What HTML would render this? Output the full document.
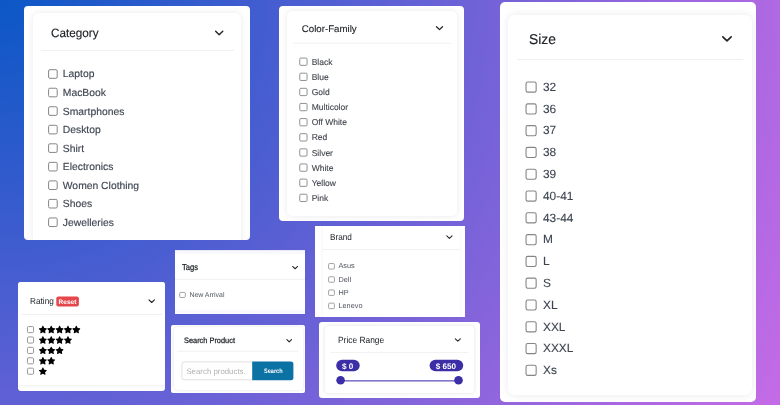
<!DOCTYPE html>
<html><head><meta charset="utf-8"><title>Filters</title>
<style>
html,body{margin:0;padding:0}
body{width:780px;height:405px;overflow:hidden;position:relative;font-family:"Liberation Sans",sans-serif;
background:radial-gradient(circle farthest-corner at 0 0, rgb(11,87,198) 0%, rgb(197,107,230) 100%);}
.abs{position:absolute}
.clip{overflow:hidden}
.t{white-space:nowrap}
#layer{position:absolute;left:0;top:0;width:780px;height:405px;will-change:transform;text-rendering:geometricPrecision}
</style></head><body>
<div id="layer">
<div class="abs clip" style="left:24px;top:6px;width:226.00px;height:234.00px;border-radius:4px;background:#fff"><div class="abs" style="left:9.00px;top:6.50px;width:207.50px;height:257.50px;border-radius:6px;background:#fff;box-shadow:0 0 7px rgba(0,0,0,0.09)"></div></div>
<div class="abs clip" style="left:279px;top:6px;width:185.00px;height:214.50px;border-radius:4px;background:#fff"><div class="abs" style="left:8.00px;top:5.00px;width:170.20px;height:204.60px;border-radius:5px;background:#fff;box-shadow:0 0 6px rgba(0,0,0,0.09)"></div></div>
<div class="abs clip" style="left:500px;top:2px;width:256.00px;height:400.00px;border-radius:5px;background:#fff"><div class="abs" style="left:8.00px;top:13.00px;width:244.00px;height:380.00px;border-radius:7px;background:#fff;box-shadow:0 0 8px rgba(0,0,0,0.09)"></div></div>
<div class="abs clip" style="left:18px;top:282px;width:146.70px;height:108.50px;border-radius:3px;background:#fff"><div class="abs" style="left:-10.00px;top:-10.00px;width:170.00px;height:112.80px;border-radius:3px;background:#fff;box-shadow:0 0 4px rgba(0,0,0,0.10)"></div></div>
<div class="abs clip" style="left:170.6px;top:325px;width:134.40px;height:67.80px;border-radius:2px;background:#fff"><div class="abs" style="left:3.40px;top:2.00px;width:129.00px;height:62.50px;border-radius:4px;background:#fff;box-shadow:0 0 4px rgba(0,0,0,0.10)"></div></div>
<div class="abs clip" style="left:314.8px;top:226.4px;width:150.30px;height:90.40px;border-radius:0;background:#fff"><div class="abs" style="left:7.80px;top:-10.40px;width:137.90px;height:120.00px;background:#fff;box-shadow:0 0 4px rgba(0,0,0,0.05)"></div></div>
<div class="abs clip" style="left:318.9px;top:321.7px;width:161.00px;height:76.30px;border-radius:3px;background:#fff"><div class="abs" style="left:6.40px;top:4.30px;width:148.30px;height:67.30px;border-radius:4px;background:#fff;box-shadow:0 0 4px rgba(0,0,0,0.12)"></div></div>
<svg class="abs" style="left:0;top:0" width="780" height="405">
<polyline points="215.65,31.15 219.20,34.65 222.75,31.15" fill="none" stroke="#262626" stroke-width="1.45" stroke-linecap="round" stroke-linejoin="round"/>
<rect x="41.00" y="49.90" width="193.00" height="1" fill="#f0f0f0"/>
<rect x="48.60" y="69.70" width="8.60" height="8.60" rx="1.3" ry="1.3" fill="#fff" stroke="#858585" stroke-width="1"/>
<rect x="48.60" y="88.23" width="8.60" height="8.60" rx="1.3" ry="1.3" fill="#fff" stroke="#858585" stroke-width="1"/>
<rect x="48.60" y="106.76" width="8.60" height="8.60" rx="1.3" ry="1.3" fill="#fff" stroke="#858585" stroke-width="1"/>
<rect x="48.60" y="125.29" width="8.60" height="8.60" rx="1.3" ry="1.3" fill="#fff" stroke="#858585" stroke-width="1"/>
<rect x="48.60" y="143.82" width="8.60" height="8.60" rx="1.3" ry="1.3" fill="#fff" stroke="#858585" stroke-width="1"/>
<rect x="48.60" y="162.35" width="8.60" height="8.60" rx="1.3" ry="1.3" fill="#fff" stroke="#858585" stroke-width="1"/>
<rect x="48.60" y="180.88" width="8.60" height="8.60" rx="1.3" ry="1.3" fill="#fff" stroke="#858585" stroke-width="1"/>
<rect x="48.60" y="199.41" width="8.60" height="8.60" rx="1.3" ry="1.3" fill="#fff" stroke="#858585" stroke-width="1"/>
<rect x="48.60" y="217.94" width="8.60" height="8.60" rx="1.3" ry="1.3" fill="#fff" stroke="#858585" stroke-width="1"/>
<polyline points="436.50,26.75 439.50,29.65 442.50,26.75" fill="none" stroke="#262626" stroke-width="1.3" stroke-linecap="round" stroke-linejoin="round"/>
<rect x="293.00" y="42.80" width="158.30" height="1" fill="#f0f0f0"/>
<rect x="299.75" y="58.05" width="7.30" height="7.30" rx="1.1" ry="1.1" fill="#fff" stroke="#858585" stroke-width="0.9"/>
<rect x="299.75" y="73.18" width="7.30" height="7.30" rx="1.1" ry="1.1" fill="#fff" stroke="#858585" stroke-width="0.9"/>
<rect x="299.75" y="88.31" width="7.30" height="7.30" rx="1.1" ry="1.1" fill="#fff" stroke="#858585" stroke-width="0.9"/>
<rect x="299.75" y="103.44" width="7.30" height="7.30" rx="1.1" ry="1.1" fill="#fff" stroke="#858585" stroke-width="0.9"/>
<rect x="299.75" y="118.57" width="7.30" height="7.30" rx="1.1" ry="1.1" fill="#fff" stroke="#858585" stroke-width="0.9"/>
<rect x="299.75" y="133.70" width="7.30" height="7.30" rx="1.1" ry="1.1" fill="#fff" stroke="#858585" stroke-width="0.9"/>
<rect x="299.75" y="148.83" width="7.30" height="7.30" rx="1.1" ry="1.1" fill="#fff" stroke="#858585" stroke-width="0.9"/>
<rect x="299.75" y="163.96" width="7.30" height="7.30" rx="1.1" ry="1.1" fill="#fff" stroke="#858585" stroke-width="0.9"/>
<rect x="299.75" y="179.09" width="7.30" height="7.30" rx="1.1" ry="1.1" fill="#fff" stroke="#858585" stroke-width="0.9"/>
<rect x="299.75" y="194.22" width="7.30" height="7.30" rx="1.1" ry="1.1" fill="#fff" stroke="#858585" stroke-width="0.9"/>
<polyline points="722.85,36.85 727.00,40.95 731.15,36.85" fill="none" stroke="#262626" stroke-width="1.7" stroke-linecap="round" stroke-linejoin="round"/>
<rect x="517.00" y="59.10" width="226.20" height="1" fill="#f0f0f0"/>
<rect x="526.05" y="82.05" width="10.10" height="10.10" rx="1.7" ry="1.7" fill="#fff" stroke="#858585" stroke-width="1.1"/>
<rect x="526.05" y="103.84" width="10.10" height="10.10" rx="1.7" ry="1.7" fill="#fff" stroke="#858585" stroke-width="1.1"/>
<rect x="526.05" y="125.63" width="10.10" height="10.10" rx="1.7" ry="1.7" fill="#fff" stroke="#858585" stroke-width="1.1"/>
<rect x="526.05" y="147.42" width="10.10" height="10.10" rx="1.7" ry="1.7" fill="#fff" stroke="#858585" stroke-width="1.1"/>
<rect x="526.05" y="169.21" width="10.10" height="10.10" rx="1.7" ry="1.7" fill="#fff" stroke="#858585" stroke-width="1.1"/>
<rect x="526.05" y="191.00" width="10.10" height="10.10" rx="1.7" ry="1.7" fill="#fff" stroke="#858585" stroke-width="1.1"/>
<rect x="526.05" y="212.79" width="10.10" height="10.10" rx="1.7" ry="1.7" fill="#fff" stroke="#858585" stroke-width="1.1"/>
<rect x="526.05" y="234.58" width="10.10" height="10.10" rx="1.7" ry="1.7" fill="#fff" stroke="#858585" stroke-width="1.1"/>
<rect x="526.05" y="256.37" width="10.10" height="10.10" rx="1.7" ry="1.7" fill="#fff" stroke="#858585" stroke-width="1.1"/>
<rect x="526.05" y="278.16" width="10.10" height="10.10" rx="1.7" ry="1.7" fill="#fff" stroke="#858585" stroke-width="1.1"/>
<rect x="526.05" y="299.95" width="10.10" height="10.10" rx="1.7" ry="1.7" fill="#fff" stroke="#858585" stroke-width="1.1"/>
<rect x="526.05" y="321.74" width="10.10" height="10.10" rx="1.7" ry="1.7" fill="#fff" stroke="#858585" stroke-width="1.1"/>
<rect x="526.05" y="343.53" width="10.10" height="10.10" rx="1.7" ry="1.7" fill="#fff" stroke="#858585" stroke-width="1.1"/>
<rect x="526.05" y="365.32" width="10.10" height="10.10" rx="1.7" ry="1.7" fill="#fff" stroke="#858585" stroke-width="1.1"/>
<rect x="56.30" y="296.50" width="22.60" height="9.90" rx="2" ry="2" fill="#e5474c"/>
<polyline points="149.00,299.90 151.70,302.50 154.40,299.90" fill="none" stroke="#262626" stroke-width="1.15" stroke-linecap="round" stroke-linejoin="round"/>
<rect x="21.40" y="314.00" width="140.60" height="1" fill="#f0f0f0"/>
<rect x="27.45" y="326.55" width="6.10" height="6.10" rx="1.2" ry="1.2" fill="#fff" stroke="#8c8c8c" stroke-width="0.9"/>
<path transform="translate(38.70,325.85) scale(0.01451)" d="M259.3 17.8L194 150.2 47.9 171.5c-26.2 3.8-36.7 36.1-17.7 54.6l105.7 103-25 145.5c-4.5 26.3 23.2 46 46.4 33.7L288 439.6l130.7 68.7c23.2 12.2 50.9-7.4 46.4-33.7l-25-145.5 105.7-103c19-18.5 8.5-50.8-17.7-54.6L382 150.2 316.7 17.8c-11.7-23.6-45.6-23.9-57.4 0z" fill="#000"/>
<path transform="translate(47.06,325.85) scale(0.01451)" d="M259.3 17.8L194 150.2 47.9 171.5c-26.2 3.8-36.7 36.1-17.7 54.6l105.7 103-25 145.5c-4.5 26.3 23.2 46 46.4 33.7L288 439.6l130.7 68.7c23.2 12.2 50.9-7.4 46.4-33.7l-25-145.5 105.7-103c19-18.5 8.5-50.8-17.7-54.6L382 150.2 316.7 17.8c-11.7-23.6-45.6-23.9-57.4 0z" fill="#000"/>
<path transform="translate(55.42,325.85) scale(0.01451)" d="M259.3 17.8L194 150.2 47.9 171.5c-26.2 3.8-36.7 36.1-17.7 54.6l105.7 103-25 145.5c-4.5 26.3 23.2 46 46.4 33.7L288 439.6l130.7 68.7c23.2 12.2 50.9-7.4 46.4-33.7l-25-145.5 105.7-103c19-18.5 8.5-50.8-17.7-54.6L382 150.2 316.7 17.8c-11.7-23.6-45.6-23.9-57.4 0z" fill="#000"/>
<path transform="translate(63.78,325.85) scale(0.01451)" d="M259.3 17.8L194 150.2 47.9 171.5c-26.2 3.8-36.7 36.1-17.7 54.6l105.7 103-25 145.5c-4.5 26.3 23.2 46 46.4 33.7L288 439.6l130.7 68.7c23.2 12.2 50.9-7.4 46.4-33.7l-25-145.5 105.7-103c19-18.5 8.5-50.8-17.7-54.6L382 150.2 316.7 17.8c-11.7-23.6-45.6-23.9-57.4 0z" fill="#000"/>
<path transform="translate(72.14,325.85) scale(0.01451)" d="M259.3 17.8L194 150.2 47.9 171.5c-26.2 3.8-36.7 36.1-17.7 54.6l105.7 103-25 145.5c-4.5 26.3 23.2 46 46.4 33.7L288 439.6l130.7 68.7c23.2 12.2 50.9-7.4 46.4-33.7l-25-145.5 105.7-103c19-18.5 8.5-50.8-17.7-54.6L382 150.2 316.7 17.8c-11.7-23.6-45.6-23.9-57.4 0z" fill="#000"/>
<rect x="27.45" y="336.95" width="6.10" height="6.10" rx="1.2" ry="1.2" fill="#fff" stroke="#8c8c8c" stroke-width="0.9"/>
<path transform="translate(38.70,336.25) scale(0.01451)" d="M259.3 17.8L194 150.2 47.9 171.5c-26.2 3.8-36.7 36.1-17.7 54.6l105.7 103-25 145.5c-4.5 26.3 23.2 46 46.4 33.7L288 439.6l130.7 68.7c23.2 12.2 50.9-7.4 46.4-33.7l-25-145.5 105.7-103c19-18.5 8.5-50.8-17.7-54.6L382 150.2 316.7 17.8c-11.7-23.6-45.6-23.9-57.4 0z" fill="#000"/>
<path transform="translate(47.06,336.25) scale(0.01451)" d="M259.3 17.8L194 150.2 47.9 171.5c-26.2 3.8-36.7 36.1-17.7 54.6l105.7 103-25 145.5c-4.5 26.3 23.2 46 46.4 33.7L288 439.6l130.7 68.7c23.2 12.2 50.9-7.4 46.4-33.7l-25-145.5 105.7-103c19-18.5 8.5-50.8-17.7-54.6L382 150.2 316.7 17.8c-11.7-23.6-45.6-23.9-57.4 0z" fill="#000"/>
<path transform="translate(55.42,336.25) scale(0.01451)" d="M259.3 17.8L194 150.2 47.9 171.5c-26.2 3.8-36.7 36.1-17.7 54.6l105.7 103-25 145.5c-4.5 26.3 23.2 46 46.4 33.7L288 439.6l130.7 68.7c23.2 12.2 50.9-7.4 46.4-33.7l-25-145.5 105.7-103c19-18.5 8.5-50.8-17.7-54.6L382 150.2 316.7 17.8c-11.7-23.6-45.6-23.9-57.4 0z" fill="#000"/>
<path transform="translate(63.78,336.25) scale(0.01451)" d="M259.3 17.8L194 150.2 47.9 171.5c-26.2 3.8-36.7 36.1-17.7 54.6l105.7 103-25 145.5c-4.5 26.3 23.2 46 46.4 33.7L288 439.6l130.7 68.7c23.2 12.2 50.9-7.4 46.4-33.7l-25-145.5 105.7-103c19-18.5 8.5-50.8-17.7-54.6L382 150.2 316.7 17.8c-11.7-23.6-45.6-23.9-57.4 0z" fill="#000"/>
<rect x="27.45" y="347.35" width="6.10" height="6.10" rx="1.2" ry="1.2" fill="#fff" stroke="#8c8c8c" stroke-width="0.9"/>
<path transform="translate(38.70,346.65) scale(0.01451)" d="M259.3 17.8L194 150.2 47.9 171.5c-26.2 3.8-36.7 36.1-17.7 54.6l105.7 103-25 145.5c-4.5 26.3 23.2 46 46.4 33.7L288 439.6l130.7 68.7c23.2 12.2 50.9-7.4 46.4-33.7l-25-145.5 105.7-103c19-18.5 8.5-50.8-17.7-54.6L382 150.2 316.7 17.8c-11.7-23.6-45.6-23.9-57.4 0z" fill="#000"/>
<path transform="translate(47.06,346.65) scale(0.01451)" d="M259.3 17.8L194 150.2 47.9 171.5c-26.2 3.8-36.7 36.1-17.7 54.6l105.7 103-25 145.5c-4.5 26.3 23.2 46 46.4 33.7L288 439.6l130.7 68.7c23.2 12.2 50.9-7.4 46.4-33.7l-25-145.5 105.7-103c19-18.5 8.5-50.8-17.7-54.6L382 150.2 316.7 17.8c-11.7-23.6-45.6-23.9-57.4 0z" fill="#000"/>
<path transform="translate(55.42,346.65) scale(0.01451)" d="M259.3 17.8L194 150.2 47.9 171.5c-26.2 3.8-36.7 36.1-17.7 54.6l105.7 103-25 145.5c-4.5 26.3 23.2 46 46.4 33.7L288 439.6l130.7 68.7c23.2 12.2 50.9-7.4 46.4-33.7l-25-145.5 105.7-103c19-18.5 8.5-50.8-17.7-54.6L382 150.2 316.7 17.8c-11.7-23.6-45.6-23.9-57.4 0z" fill="#000"/>
<rect x="27.45" y="357.75" width="6.10" height="6.10" rx="1.2" ry="1.2" fill="#fff" stroke="#8c8c8c" stroke-width="0.9"/>
<path transform="translate(38.70,357.05) scale(0.01451)" d="M259.3 17.8L194 150.2 47.9 171.5c-26.2 3.8-36.7 36.1-17.7 54.6l105.7 103-25 145.5c-4.5 26.3 23.2 46 46.4 33.7L288 439.6l130.7 68.7c23.2 12.2 50.9-7.4 46.4-33.7l-25-145.5 105.7-103c19-18.5 8.5-50.8-17.7-54.6L382 150.2 316.7 17.8c-11.7-23.6-45.6-23.9-57.4 0z" fill="#000"/>
<path transform="translate(47.06,357.05) scale(0.01451)" d="M259.3 17.8L194 150.2 47.9 171.5c-26.2 3.8-36.7 36.1-17.7 54.6l105.7 103-25 145.5c-4.5 26.3 23.2 46 46.4 33.7L288 439.6l130.7 68.7c23.2 12.2 50.9-7.4 46.4-33.7l-25-145.5 105.7-103c19-18.5 8.5-50.8-17.7-54.6L382 150.2 316.7 17.8c-11.7-23.6-45.6-23.9-57.4 0z" fill="#000"/>
<rect x="27.45" y="368.15" width="6.10" height="6.10" rx="1.2" ry="1.2" fill="#fff" stroke="#8c8c8c" stroke-width="0.9"/>
<path transform="translate(38.70,367.45) scale(0.01451)" d="M259.3 17.8L194 150.2 47.9 171.5c-26.2 3.8-36.7 36.1-17.7 54.6l105.7 103-25 145.5c-4.5 26.3 23.2 46 46.4 33.7L288 439.6l130.7 68.7c23.2 12.2 50.9-7.4 46.4-33.7l-25-145.5 105.7-103c19-18.5 8.5-50.8-17.7-54.6L382 150.2 316.7 17.8c-11.7-23.6-45.6-23.9-57.4 0z" fill="#000"/>
<rect x="175.00" y="250.10" width="130.00" height="63.90" rx="0" ry="0" fill="#f9f9fd"/>
<rect x="175.00" y="253.90" width="130.00" height="55.90" rx="0" ry="0" fill="#fff"/>
<polyline points="292.60,266.45 295.10,268.75 297.60,266.45" fill="none" stroke="#262626" stroke-width="1.05" stroke-linecap="round" stroke-linejoin="round"/>
<rect x="175.00" y="278.80" width="130.00" height="1" fill="#f1f1f4"/>
<rect x="179.70" y="292.40" width="5.60" height="5.10" rx="0.9" ry="0.9" fill="#fff" stroke="#8c8c8c" stroke-width="0.8"/>
<polyline points="286.90,339.60 289.20,341.80 291.50,339.60" fill="none" stroke="#262626" stroke-width="1.15" stroke-linecap="round" stroke-linejoin="round"/>
<rect x="177.00" y="350.70" width="121.00" height="1" fill="#f1f1f1"/>
<rect x="181.90" y="361.90" width="72.10" height="17.90" rx="2.5" ry="2.5" fill="#fff" stroke="#e0e0e0" stroke-width="1"/>
<path d="M252.2,361.4 H290.9 a2.5,2.5 0 0 1 2.5,2.5 V377.8 a2.5,2.5 0 0 1 -2.5,2.5 H252.2 Z" fill="#0c71a3"/>
<polyline points="446.80,235.95 449.40,238.45 452.00,235.95" fill="none" stroke="#262626" stroke-width="1.1" stroke-linecap="round" stroke-linejoin="round"/>
<rect x="322.60" y="249.00" width="137.40" height="1" fill="#f1f1f1"/>
<rect x="328.60" y="263.55" width="5.80" height="5.50" rx="1.0" ry="1.0" fill="#fff" stroke="#8c8c8c" stroke-width="0.8"/>
<rect x="328.60" y="276.75" width="5.80" height="5.50" rx="1.0" ry="1.0" fill="#fff" stroke="#8c8c8c" stroke-width="0.8"/>
<rect x="328.60" y="289.95" width="5.80" height="5.50" rx="1.0" ry="1.0" fill="#fff" stroke="#8c8c8c" stroke-width="0.8"/>
<rect x="328.60" y="303.15" width="5.80" height="5.50" rx="1.0" ry="1.0" fill="#fff" stroke="#8c8c8c" stroke-width="0.8"/>
<polyline points="455.30,338.80 457.80,341.20 460.30,338.80" fill="none" stroke="#262626" stroke-width="1.1" stroke-linecap="round" stroke-linejoin="round"/>
<rect x="330.70" y="351.90" width="137.70" height="1" fill="#f1f1f1"/>
<rect x="336.20" y="359.70" width="23.50" height="11.60" rx="5.8" ry="5.8" fill="#3b2ea6"/>
<rect x="429.60" y="359.70" width="33.60" height="11.60" rx="5.8" ry="5.8" fill="#3b2ea6"/>
<rect x="341" y="380.0" width="117" height="1.6" fill="#8176ce"/>
<circle cx="340.6" cy="380.3" r="4.3" fill="#3b2ea6"/>
<circle cx="458.5" cy="380.3" r="4.3" fill="#3b2ea6"/>
</svg>
<div class="abs t" style="left:51.10px;top:26px;font-size:12.0px;line-height:15px;color:#212529;font-weight:normal;transform:scaleX(0.978);transform-origin:0 0;-webkit-text-stroke:0.15px #212529;">Category</div>
<div class="abs t" style="left:62.80px;top:68px;font-size:10.35px;line-height:13px;color:#3f4652;font-weight:normal;-webkit-text-stroke:0.15px #3f4652;">Laptop</div>
<div class="abs t" style="left:62.80px;top:87px;font-size:10.35px;line-height:13px;color:#3f4652;font-weight:normal;-webkit-text-stroke:0.15px #3f4652;">MacBook</div>
<div class="abs t" style="left:62.80px;top:106px;font-size:10.35px;line-height:13px;color:#3f4652;font-weight:normal;-webkit-text-stroke:0.15px #3f4652;">Smartphones</div>
<div class="abs t" style="left:62.80px;top:124px;font-size:10.35px;line-height:13px;color:#3f4652;font-weight:normal;-webkit-text-stroke:0.15px #3f4652;">Desktop</div>
<div class="abs t" style="left:62.80px;top:143px;font-size:10.35px;line-height:13px;color:#3f4652;font-weight:normal;-webkit-text-stroke:0.15px #3f4652;">Shirt</div>
<div class="abs t" style="left:62.80px;top:161px;font-size:10.35px;line-height:13px;color:#3f4652;font-weight:normal;-webkit-text-stroke:0.15px #3f4652;">Electronics</div>
<div class="abs t" style="left:62.80px;top:180px;font-size:10.35px;line-height:13px;color:#3f4652;font-weight:normal;-webkit-text-stroke:0.15px #3f4652;">Women Clothing</div>
<div class="abs t" style="left:62.80px;top:198px;font-size:10.35px;line-height:13px;color:#3f4652;font-weight:normal;-webkit-text-stroke:0.15px #3f4652;">Shoes</div>
<div class="abs t" style="left:62.80px;top:217px;font-size:10.35px;line-height:13px;color:#3f4652;font-weight:normal;-webkit-text-stroke:0.15px #3f4652;">Jewelleries</div>
<div class="abs t" style="left:301.80px;top:24px;font-size:9.7px;line-height:12px;color:#212529;font-weight:normal;-webkit-text-stroke:0.12px #212529;">Color-Family</div>
<div class="abs t" style="left:311.70px;top:57px;font-size:8.5px;line-height:11px;color:#40454d;font-weight:normal;-webkit-text-stroke:0.12px #40454d;">Black</div>
<div class="abs t" style="left:311.70px;top:72px;font-size:8.5px;line-height:11px;color:#40454d;font-weight:normal;-webkit-text-stroke:0.12px #40454d;">Blue</div>
<div class="abs t" style="left:311.70px;top:87px;font-size:8.5px;line-height:11px;color:#40454d;font-weight:normal;-webkit-text-stroke:0.12px #40454d;">Gold</div>
<div class="abs t" style="left:311.70px;top:102px;font-size:8.5px;line-height:11px;color:#40454d;font-weight:normal;-webkit-text-stroke:0.12px #40454d;">Multicolor</div>
<div class="abs t" style="left:311.70px;top:117px;font-size:8.5px;line-height:11px;color:#40454d;font-weight:normal;-webkit-text-stroke:0.12px #40454d;">Off White</div>
<div class="abs t" style="left:311.70px;top:132px;font-size:8.5px;line-height:11px;color:#40454d;font-weight:normal;-webkit-text-stroke:0.12px #40454d;">Red</div>
<div class="abs t" style="left:311.70px;top:148px;font-size:8.5px;line-height:11px;color:#40454d;font-weight:normal;-webkit-text-stroke:0.12px #40454d;">Silver</div>
<div class="abs t" style="left:311.70px;top:163px;font-size:8.5px;line-height:11px;color:#40454d;font-weight:normal;-webkit-text-stroke:0.12px #40454d;">White</div>
<div class="abs t" style="left:311.70px;top:178px;font-size:8.5px;line-height:11px;color:#40454d;font-weight:normal;-webkit-text-stroke:0.12px #40454d;">Yellow</div>
<div class="abs t" style="left:311.70px;top:193px;font-size:8.5px;line-height:11px;color:#40454d;font-weight:normal;-webkit-text-stroke:0.12px #40454d;">Pink</div>
<div class="abs t" style="left:528.60px;top:31px;font-size:14.3px;line-height:18px;color:#212529;font-weight:normal;transform:scaleX(0.97);transform-origin:0 0;-webkit-text-stroke:0.15px #212529;">Size</div>
<div class="abs t" style="left:543.00px;top:80px;font-size:11.9px;line-height:15px;color:#3f4652;font-weight:normal;-webkit-text-stroke:0.12px #3f4652;">32</div>
<div class="abs t" style="left:543.00px;top:102px;font-size:11.9px;line-height:15px;color:#3f4652;font-weight:normal;-webkit-text-stroke:0.12px #3f4652;">36</div>
<div class="abs t" style="left:543.00px;top:123px;font-size:11.9px;line-height:15px;color:#3f4652;font-weight:normal;-webkit-text-stroke:0.12px #3f4652;">37</div>
<div class="abs t" style="left:543.00px;top:145px;font-size:11.9px;line-height:15px;color:#3f4652;font-weight:normal;-webkit-text-stroke:0.12px #3f4652;">38</div>
<div class="abs t" style="left:543.00px;top:167px;font-size:11.9px;line-height:15px;color:#3f4652;font-weight:normal;-webkit-text-stroke:0.12px #3f4652;">39</div>
<div class="abs t" style="left:543.00px;top:189px;font-size:11.9px;line-height:15px;color:#3f4652;font-weight:normal;-webkit-text-stroke:0.12px #3f4652;">40-41</div>
<div class="abs t" style="left:543.00px;top:211px;font-size:11.9px;line-height:15px;color:#3f4652;font-weight:normal;-webkit-text-stroke:0.12px #3f4652;">43-44</div>
<div class="abs t" style="left:543.00px;top:232px;font-size:11.9px;line-height:15px;color:#3f4652;font-weight:normal;-webkit-text-stroke:0.12px #3f4652;">M</div>
<div class="abs t" style="left:543.00px;top:254px;font-size:11.9px;line-height:15px;color:#3f4652;font-weight:normal;-webkit-text-stroke:0.12px #3f4652;">L</div>
<div class="abs t" style="left:543.00px;top:276px;font-size:11.9px;line-height:15px;color:#3f4652;font-weight:normal;-webkit-text-stroke:0.12px #3f4652;">S</div>
<div class="abs t" style="left:543.00px;top:298px;font-size:11.9px;line-height:15px;color:#3f4652;font-weight:normal;-webkit-text-stroke:0.12px #3f4652;">XL</div>
<div class="abs t" style="left:543.00px;top:320px;font-size:11.9px;line-height:15px;color:#3f4652;font-weight:normal;-webkit-text-stroke:0.12px #3f4652;">XXL</div>
<div class="abs t" style="left:543.00px;top:341px;font-size:11.9px;line-height:15px;color:#3f4652;font-weight:normal;-webkit-text-stroke:0.12px #3f4652;">XXXL</div>
<div class="abs t" style="left:543.00px;top:363px;font-size:11.9px;line-height:15px;color:#3f4652;font-weight:normal;-webkit-text-stroke:0.12px #3f4652;">Xs</div>
<div class="abs t" style="left:29.70px;top:296px;font-size:8.85px;line-height:11px;color:#212529;font-weight:normal;transform:scaleX(0.93);transform-origin:0 0;">Rating</div>
<div class="abs t" style="left:58.60px;top:299px;font-size:6.5px;line-height:8px;color:#fff;font-weight:bold;">Reset</div>
<div class="abs t" style="left:181.50px;top:262px;font-size:8.6px;line-height:11px;color:#212529;font-weight:normal;transform:scaleX(0.885);transform-origin:0 0;-webkit-text-stroke:0.25px #212529;">Tags</div>
<div class="abs t" style="left:189.40px;top:291px;font-size:6.95px;line-height:9px;color:#50555f;font-weight:normal;">New Arrival</div>
<div class="abs t" style="left:183.80px;top:336px;font-size:7.8px;line-height:10px;color:#212529;font-weight:normal;transform:scaleX(0.948);transform-origin:0 0;-webkit-text-stroke:0.25px #212529;">Search Product</div>
<div class="abs t" style="left:186.40px;top:367px;font-size:7.85px;line-height:10px;color:#b2b2b2;font-weight:normal;">Search products.</div>
<div class="abs t" style="left:263.80px;top:368px;font-size:6.4px;line-height:8px;color:#fff;font-weight:bold;transform:scaleX(0.87);transform-origin:0 0;">Search</div>
<div class="abs t" style="left:330.00px;top:232px;font-size:8.9px;line-height:11px;color:#212529;font-weight:normal;transform:scaleX(0.925);transform-origin:0 0;">Brand</div>
<div class="abs t" style="left:338.50px;top:261px;font-size:7.3px;line-height:9px;color:#50555f;font-weight:normal;">Asus</div>
<div class="abs t" style="left:338.50px;top:275px;font-size:7.3px;line-height:9px;color:#50555f;font-weight:normal;">Dell</div>
<div class="abs t" style="left:338.50px;top:288px;font-size:7.3px;line-height:9px;color:#50555f;font-weight:normal;">HP</div>
<div class="abs t" style="left:338.50px;top:301px;font-size:7.3px;line-height:9px;color:#50555f;font-weight:normal;">Lenevo</div>
<div class="abs t" style="left:338.00px;top:335px;font-size:9.0px;line-height:11px;color:#212529;font-weight:normal;transform:scaleX(0.933);transform-origin:0 0;">Price Range</div>
<div class="abs t" style="left:342.00px;top:362px;font-size:8.1px;line-height:10px;color:#fff;font-weight:bold;">$ 0</div>
<div class="abs t" style="left:435.80px;top:362px;font-size:8.1px;line-height:10px;color:#fff;font-weight:bold;">$ 650</div>
</div>
</body></html>
